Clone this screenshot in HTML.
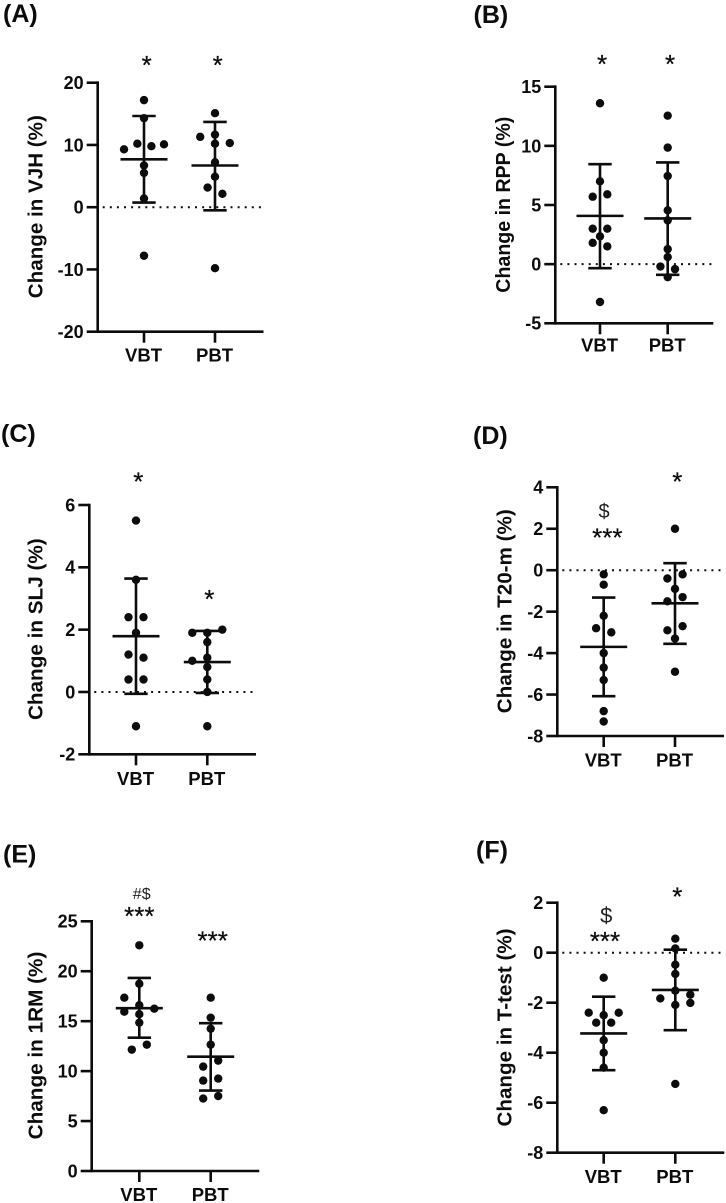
<!DOCTYPE html>
<html lang="en">
<head>
<meta charset="utf-8">
<title>Change in performance measures, VBT vs PBT</title>
<style>
  html, body { margin: 0; padding: 0; background: #fff; }
  svg { display: block; }
  text { font-family: "Liberation Sans", Arial, sans-serif; fill: #0c0c0c; }
  .letter { font-size: 25px; font-weight: 700; }
  .ytitle { font-size: 20px; font-weight: 700; }
  .tick { font-size: 18px; font-weight: 700; }
  .cat { font-size: 18.5px; font-weight: 700; }
  .star { font-size: 26px; stroke: #0c0c0c; stroke-width: 0.25px; }
  .sym { font-size: 20px; fill: #222; }
</style>
</head>
<body>
<svg id="figure" xmlns="http://www.w3.org/2000/svg" width="726" height="1203" viewBox="0 0 726 1203">
  <g id="panel-a">
    <text class="letter" x="3" y="22">(A)</text>
    <text class="ytitle" transform="translate(42.7 206.7) rotate(-90)" text-anchor="middle" textLength="183" lengthAdjust="spacingAndGlyphs">Change in VJH (%)</text>
    <text class="star" x="146.7" y="74" text-anchor="middle">*</text>
    <text class="star" x="217.7" y="74" text-anchor="middle">*</text>
  </g>
  <g id="panel-b">
    <text class="letter" x="473.5" y="23">(B)</text>
    <text class="ytitle" transform="translate(510 204.7) rotate(-90)" text-anchor="middle" textLength="176" lengthAdjust="spacingAndGlyphs">Change in RPP (%)</text>
    <text class="star" x="602" y="73" text-anchor="middle">*</text>
    <text class="star" x="670" y="73" text-anchor="middle">*</text>
  </g>
  <g id="panel-c">
    <text class="letter" x="1" y="442">(C)</text>
    <text class="ytitle" transform="translate(42.7 629.2) rotate(-90)" text-anchor="middle" textLength="181.7" lengthAdjust="spacingAndGlyphs">Change in SLJ (%)</text>
    <text class="star" x="138.3" y="490.5" text-anchor="middle">*</text>
    <text class="star" x="209.3" y="608" text-anchor="middle">*</text>
  </g>
  <g id="panel-d">
    <text class="letter" x="473" y="444">(D)</text>
    <text class="ytitle" transform="translate(511.7 611.3) rotate(-90)" text-anchor="middle" textLength="204" lengthAdjust="spacingAndGlyphs">Change in T20-m (%)</text>
    <text class="sym" x="604" y="518" text-anchor="middle">$</text>
    <text class="star" x="607.3" y="546.5" text-anchor="middle">***</text>
    <text class="star" x="677.3" y="490.5" text-anchor="middle">*</text>
  </g>
  <g id="panel-e">
    <text class="letter" x="3" y="862.5">(E)</text>
    <text class="ytitle" transform="translate(42.7 1045.5) rotate(-90)" text-anchor="middle" textLength="187.7" lengthAdjust="spacingAndGlyphs">Change in 1RM (%)</text>
    <text class="sym" x="141.7" y="899" text-anchor="middle" style="font-size:16px">#$</text>
    <text class="star" x="139.3" y="925" text-anchor="middle">***</text>
    <text class="star" x="212.7" y="949.5" text-anchor="middle">***</text>
  </g>
  <g id="panel-f">
    <text class="letter" x="476" y="858.5">(F)</text>
    <text class="ytitle" transform="translate(511.7 1027.5) rotate(-90)" text-anchor="middle" textLength="198" lengthAdjust="spacingAndGlyphs">Change in T-test (%)</text>
    <text class="sym" x="606.3" y="923" text-anchor="middle" style="font-size:22px">$</text>
    <text class="star" x="605" y="950" text-anchor="middle">***</text>
    <text class="star" x="677.3" y="905.5" text-anchor="middle">*</text>
  </g>
</svg>
<script>
// Shared categories
const categories = ['VBT', 'PBT'];

// Panel A: change in VJH (%)
const aTicks = [-20, -10, 0, 10, 20];
const aVbtValues = [17.2, 14.3, 9.3, 10.2, 9.8, 10.1, 6.7, 5.5, 1.4, -7.8];
const aVbtSwarm = [0, 0, -2.7, -0.9, 1, 2.7, 0, 0, 0, 0];
const aVbtStats = [7.7, 14.65, 0.75];
const aPbtValues = [15.1, 11.3, 11.65, 10.2, 10.3, 7.2, 4.9, 3.15, 2.15, -9.8];
const aPbtSwarm = [0, -2, 0, 0, 2, 0, 0, -1, 1, 0];
const aPbtStats = [6.7, 13.7, -0.5];

// Panel B: change in RPP (%)
const bTicks = [-5, 0, 5, 10, 15];
const bVbtValues = [13.6, 7.0, 5.7, 5.9, 3.0, 3.0, 2.35, 1.8, 1.5, -3.2];
const bVbtSwarm = [0, 0, -1, 1, -1, 1, 0, -1, 1, 0];
const bVbtStats = [4.08, 8.45, -0.34];
const bPbtValues = [12.55, 9.85, 7.45, 4.55, 3.7, 1.27, 0.6, -0.2, -0.42, -1.1];
const bPbtSwarm = [0, 0, 0, 0, 0, 0, 0, -1, 1, 0];
const bPbtStats = [3.86, 8.6, -0.9];

// Panel C: change in SLJ (%)
const cTicks = [-2, 0, 2, 4, 6];
const cVbtValues = [5.5, 3.6, 2.4, 2.4, 1.9, 1.2, 1.1, 0.4, 0.4, -1.1];
const cVbtSwarm = [0, 0, -1, 1, 0, -1, 1, -1, 1, 0];
const cVbtStats = [1.79, 3.64, -0.06];
const cPbtValues = [1.9, 1.9, 2.0, 1.6, 1.0, 1.1, 0.8, 0.4, 0, -1.1];
const cPbtSwarm = [0, -2, 2, 0, -2, 0, 0, 0, 0, 0];
const cPbtStats = [0.96, 1.96, -0.03];

// Panel D: change in T20-m (%)
const dTicks = [-8, -6, -4, -2, 0, 2, 4];
const dVbtValues = [-0.2, -0.7, -2.2, -2.8, -3.0, -4.0, -4.7, -5.3, -6.8, -7.3];
const dVbtSwarm = [0, 0, 0, -1, 1, 0, 0, 0, 0, 0];
const dVbtStats = [-3.7, -1.32, -6.08];
const dPbtValues = [2.0, -0.2, -0.4, -0.9, -1.3, -1.5, -2.7, -2.9, -3.3, -4.9];
const dPbtSwarm = [0, 1, -1, 0, 1, -1, 1, -1, 0, 0];
const dPbtStats = [-1.6, 0.34, -3.55];

// Panel E: change in 1RM (%)
const eTicks = [0, 5, 10, 15, 20, 25];
const eVbtValues = [22.6, 18.75, 17.35, 16.6, 16.25, 15.95, 15.7, 14.85, 12.65, 12.15];
const eVbtSwarm = [0, 0, -2, 0, 2, -2, 0, 0, 1, -1];
const eVbtStats = [16.3, 19.33, 13.35];
const ePbtValues = [17.35, 15.35, 14.25, 12.65, 11.05, 10.45, 9.25, 9.05, 7.5, 7.25];
const ePbtSwarm = [0, 0, 0, 0, 1, -1, 1, -1, 1, -1];
const ePbtStats = [11.45, 14.8, 8.05];

// Panel F: change in T-test (%)
const fTicks = [-8, -6, -4, -2, 0, 2];
const fVbtValues = [-1.0, -2.4, -2.4, -2.5, -2.8, -2.8, -3.5, -4.0, -4.6, -6.3];
const fVbtSwarm = [0, -2, 2, 0, -1, 1, 0, 0, 0, 0];
const fVbtStats = [-3.23, -1.76, -4.7];
const fPbtValues = [0.56, 0.17, -0.48, -0.85, -1.52, -1.68, -1.83, -2.09, -2.01, -5.25];
const fPbtSwarm = [0, 0, 0, 0, 0, 2, -2, 0, 2, 0];
const fPbtStats = [-1.49, 0.12, -3.1];

// Layout (separate from the data above)
const SVGNS = 'http://www.w3.org/2000/svg';
const panels = [
  { id: 'a', left: 97.7, right: 263.5, top: 82.7, bottom: 331.7, cat: [144, 215], step: 7.4, labelGap: 30,
    ticks: aTicks, series: [[aVbtValues, aVbtSwarm, aVbtStats], [aPbtValues, aPbtSwarm, aPbtStats]] },
  { id: 'b', left: 555.3, right: 713.3, top: 86.7, bottom: 323.3, cat: [600, 667.7], step: 7.3, labelGap: 28.4,
    ticks: bTicks, series: [[bVbtValues, bVbtSwarm, bVbtStats], [bPbtValues, bPbtSwarm, bPbtStats]] },
  { id: 'c', left: 89.3, right: 256, top: 505, bottom: 754.3, cat: [136, 207.3], step: 7.5, labelGap: 30.7,
    ticks: cTicks, series: [[cVbtValues, cVbtSwarm, cVbtStats], [cPbtValues, cPbtSwarm, cPbtStats]] },
  { id: 'd', left: 557.3, right: 724, top: 487.3, bottom: 736, cat: [603.7, 675], step: 7.6, labelGap: 30.7,
    ticks: dTicks, series: [[dVbtValues, dVbtSwarm, dVbtStats], [dPbtValues, dPbtSwarm, dPbtStats]] },
  { id: 'e', left: 91.7, right: 259.3, top: 921.3, bottom: 1171, cat: [139.3, 210.7], step: 7.5, labelGap: 30,
    ticks: eTicks, series: [[eVbtValues, eVbtSwarm, eVbtStats], [ePbtValues, ePbtSwarm, ePbtStats]] },
  { id: 'f', left: 557.3, right: 724.3, top: 902.7, bottom: 1152.7, cat: [603.7, 675.3], step: 7.5, labelGap: 30.3,
    ticks: fTicks, series: [[fVbtValues, fVbtSwarm, fVbtStats], [fPbtValues, fPbtSwarm, fPbtStats]] }
];

const INK = '#0c0c0c';
const LINE_W = 2.6;
const DOT_R = 4.2;
const MEAN_HALF = 23.5;
const CAP_HALF = 11.7;
const TICK_LEN = 11;

function makeLine(parent, x1, y1, x2, y2) {
  const el = document.createElementNS(SVGNS, 'line');
  el.setAttribute('x1', x1);
  el.setAttribute('y1', y1);
  el.setAttribute('x2', x2);
  el.setAttribute('y2', y2);
  el.setAttribute('stroke', INK);
  el.setAttribute('stroke-width', LINE_W);
  parent.appendChild(el);
  return el;
}

function drawPanel(p) {
  const root = document.getElementById('panel-' + p.id);
  const min = Math.min.apply(null, p.ticks);
  const max = Math.max.apply(null, p.ticks);
  const yScale = v => p.bottom - (v - min) / (max - min) * (p.bottom - p.top);

  // Zero reference line
  if (min < 0 && max > 0) {
    const zero = makeLine(root, p.left + 5, yScale(0), p.right, yScale(0));
    zero.setAttribute('stroke-width', '2');
    zero.setAttribute('stroke-dasharray', '2 5.1');
    
    
  }

  // Axes
  const yAxis = makeLine(root, p.left, p.top - 1.3, p.left, p.bottom + 1.3);
  
  
  const xAxis = makeLine(root, p.left, p.bottom, p.right, p.bottom);
  
  

  // Y ticks and labels
  p.ticks.forEach(function (t) {
    const y = yScale(t);
    const mark = makeLine(root, p.left - TICK_LEN, y, p.left, y);
    
    
    const label = document.createElementNS(SVGNS, 'text');
    label.setAttribute('class', 'tick');
    label.setAttribute('x', p.left - TICK_LEN - 3);
    label.setAttribute('y', y + 6.4);
    label.setAttribute('text-anchor', 'end');
    
    
    label.textContent = String(t);
    root.appendChild(label);
  });

  // Series
  p.series.forEach(function (s, i) {
    const cx = p.cat[i];
    const values = s[0], swarm = s[1], stats = s[2];

    const xMark = makeLine(root, cx, p.bottom, cx, p.bottom + TICK_LEN);
    
    

    const catLabel = document.createElementNS(SVGNS, 'text');
    catLabel.setAttribute('class', 'cat');
    catLabel.setAttribute('x', cx - 0.5);
    catLabel.setAttribute('y', p.bottom + p.labelGap);
    catLabel.setAttribute('text-anchor', 'middle');
    
    
    catLabel.textContent = categories[i];
    root.appendChild(catLabel);

    values.forEach(function (v, k) {
      const dot = document.createElementNS(SVGNS, 'circle');
      dot.setAttribute('cx', cx + swarm[k] * p.step);
      dot.setAttribute('cy', yScale(v));
      dot.setAttribute('r', DOT_R);
      dot.setAttribute('fill', INK);
      
      
      root.appendChild(dot);
    });

    const mean = makeLine(root, cx - MEAN_HALF, yScale(stats[0]), cx + MEAN_HALF, yScale(stats[0]));
    
    
    const stem = makeLine(root, cx, yScale(stats[1]), cx, yScale(stats[2]));
    
    
    const capHigh = makeLine(root, cx - CAP_HALF, yScale(stats[1]), cx + CAP_HALF, yScale(stats[1]));
    
    
    const capLow = makeLine(root, cx - CAP_HALF, yScale(stats[2]), cx + CAP_HALF, yScale(stats[2]));
    
    
  });
}

panels.forEach(drawPanel);
</script>
</body>
</html>
